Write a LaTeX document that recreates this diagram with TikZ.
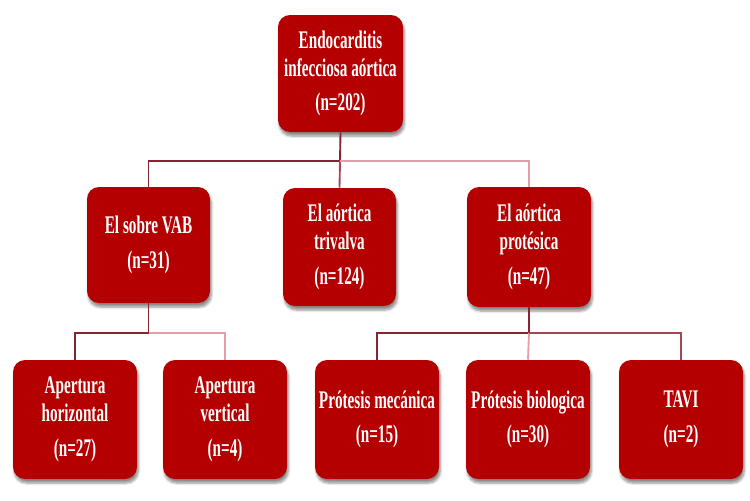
\documentclass[tikz,border=0pt]{standalone}
\usepackage{fontspec}
\setmainfont[FakeStretch=0.6]{Liberation Serif}
\usetikzlibrary{shadows.blur}
\definecolor{boxred}{RGB}{180,0,0}
\definecolor{linedark}{RGB}{135,35,50}
\definecolor{linemid}{RGB}{165,70,85}
\definecolor{linelight}{RGB}{225,160,168}
\tikzset{
  box/.style={draw=none, fill=boxred, rounded corners=9pt, text=white,
    font=\bfseries\fontsize{19pt}{21pt}\selectfont, align=center, inner sep=0pt,
    blur shadow={shadow xshift=1pt, shadow yshift=-3pt, shadow blur steps=6, shadow opacity=45}},
  conn/.style={line width=1.4pt},
}
\begin{document}
\begin{tikzpicture}[x=0.75pt, y=-0.75pt]
\useasboundingbox (0,0) rectangle (750,500);
% top
\node[box, minimum width=93.75pt, minimum height=87.75pt] (top) at (340.5,73.5)
  {Endocarditis\\infecciosa aórtica\\[5pt](n=202)};
% level 2
\node[box, minimum width=92.25pt, minimum height=87pt] (vab) at (148.5,245)
  {El sobre VAB\\[5pt](n=31)};
\node[box, minimum width=84.75pt, minimum height=88.5pt] (tri) at (339.5,247)
  {El aórtica\\trivalva\\[5pt](n=124)};
\node[box, minimum width=93pt, minimum height=90pt] (pro) at (529,247)
  {El aórtica\\protésica\\[5pt](n=47)};
% level 3
\node[box, minimum width=93pt, minimum height=89.25pt] (hor) at (75,419.5)
  {Apertura\\horizontal\\[5pt](n=27)};
\node[box, minimum width=93pt, minimum height=89.25pt] (ver) at (225,419.5)
  {Apertura\\vertical\\[5pt](n=4)};
\node[box, minimum width=93pt, minimum height=89.25pt] (mec) at (377,419.5)
  {Prótesis mecánica\\[5pt](n=15)};
\node[box, minimum width=93pt, minimum height=89.25pt] (bio) at (528,419.5)
  {Prótesis biologica\\[5pt](n=30)};
\node[box, minimum width=93pt, minimum height=89.25pt] (tavi) at (681,419.5)
  {TAVI\\[5pt](n=2)};
% bus coordinates
\coordinate (bus1) at (340,161);
\coordinate (bus2) at (148.5,333);
\coordinate (bus3) at (529,333);
% connectors level 1-2
\draw[conn, linedark] (top.south) -- (bus1);
\draw[conn, linedark] (bus1) -| (vab.north);
\draw[conn, linemid] (bus1) -- (tri.north);
\draw[conn, linelight] (bus1) -| (pro.north);
% connectors level 2-3 left
\draw[conn, linedark] (vab.south) -- (bus2);
\draw[conn, linedark] (bus2) -| (hor.north);
\draw[conn, linelight] (bus2) -| (ver.north);
% connectors level 2-3 right
\draw[conn, linedark] (pro.south) -- (bus3);
\draw[conn, linedark] (bus3) -| (mec.north);
\draw[conn, linelight] (bus3) -- (bio.north);
\draw[conn, linemid] (bus3) -| (tavi.north);
\end{tikzpicture}
\end{document}
